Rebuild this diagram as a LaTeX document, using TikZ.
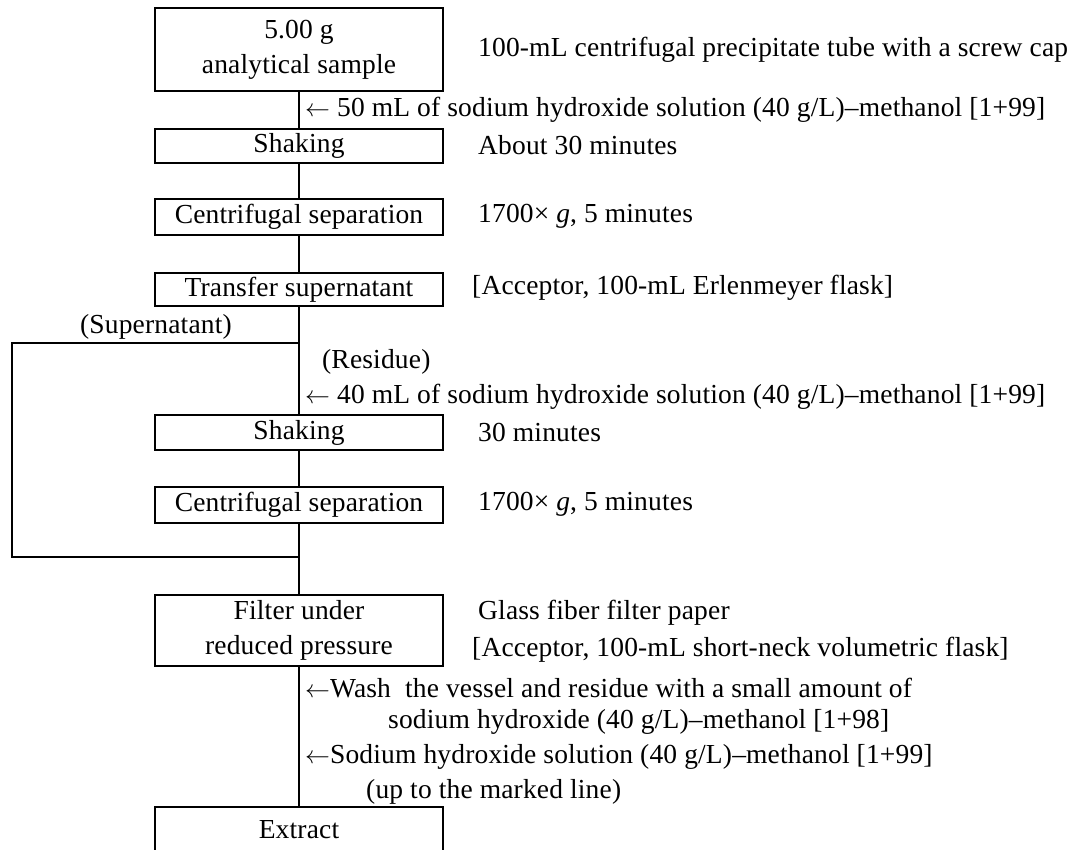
\documentclass[tikz,border=0pt]{standalone}
\usepackage{fontspec}
\setmainfont{Liberation Serif}[LetterSpace=0.6]
\begin{document}
\begin{tikzpicture}[x=1pt,y=-1pt,
  font=\fontsize{27.5}{35}\selectfont,
  box/.style={draw, line width=2.4pt, minimum width=288pt, inner sep=0pt, anchor=north, align=center},
  openbox/.style={minimum width=288pt, inner sep=0pt, anchor=north, align=center},
  link/.style={line width=2.4pt},
  lbl/.style={anchor=west, inner sep=0pt, align=left}]
\clip (0,0) rectangle (1084,850);
% boxes
\node[box, minimum height=83pt] (b1) at (299,7) {5.00 g\\analytical sample};
\node[box, minimum height=34pt] (s1) at (299,128) {Shaking};
\node[box, minimum height=36pt] (c1) at (299,198) {Centrifugal separation};
\node[box, minimum height=33pt] (tr) at (299,272) {Transfer supernatant};
\node[box, minimum height=35pt] (s2) at (299,414) {Shaking};
\node[box, minimum height=36pt] (c2) at (299,486) {Centrifugal separation};
\node[box, minimum height=71pt] (fi) at (299,594) {Filter under\\reduced pressure};
\node[openbox, minimum height=44pt] (ex) at (299,807) {Extract};
\draw[link] ([yshift=-30pt]ex.south west) -- (ex.north west) -- (ex.north east) -- ([yshift=-30pt]ex.south east);
% connectors
\draw[link] (b1) -- (s1);
\draw[link] (s1) -- (c1);
\draw[link] (c1) -- (tr);
\draw[link] (tr) -- (s2);
\draw[link] (s2) -- (c2);
\draw[link] (c2) -- (fi);
\draw[link] (fi) -- (ex);
\coordinate (sp) at (299,343);
\coordinate (lt) at (12,343);
\coordinate (lb) at (12,557);
\coordinate (jn) at (299,557);
\draw[link] (sp) -- (lt) -- (lb) -- (jn);
% left-side labels
\node[lbl] (t50) at (305,110) {$\leftarrow$ 50 mL of sodium hydroxide solution (40 g/L)–methanol [1+99]};
\node[anchor=east, inner sep=0pt] (tsup) at (232,327) {(Supernatant)};
\node[lbl] (tres) at (322,362) {(Residue)};
\node[lbl] (t40) at (305,397) {$\leftarrow$ 40 mL of sodium hydroxide solution (40 g/L)–methanol [1+99]};
\node[lbl] (tw1) at (305,688) {$\leftarrow$Wash\ \ the vessel and residue with a small amount of};
\node[lbl] (tw2) at (388,722) {sodium hydroxide (40 g/L)–methanol [1+98]};
\node[lbl] (tn1) at (305,757) {$\leftarrow$Sodium hydroxide solution (40 g/L)–methanol [1+99]};
\node[lbl] (tn2) at (366,792) {(up to the marked line)};
% right-side notes
\node[lbl] (r1) at (478,50) {100-mL centrifugal precipitate tube with a screw cap};
\node[lbl] (r2) at (478,145) {About 30 minutes};
\node[lbl] (r3) at (478,216) {1700× \textit{g}, 5 minutes};
\node[lbl] (r4) at (472,288) {[Acceptor, 100-mL Erlenmeyer flask]};
\node[lbl] (r5) at (478,432) {30 minutes};
\node[lbl] (r6) at (478,504) {1700× \textit{g}, 5 minutes};
\node[lbl] (r7) at (478,613) {Glass fiber filter paper};
\node[lbl] (r8) at (472,650) {[Acceptor, 100-mL short-neck volumetric flask]};
\end{tikzpicture}
\end{document}
